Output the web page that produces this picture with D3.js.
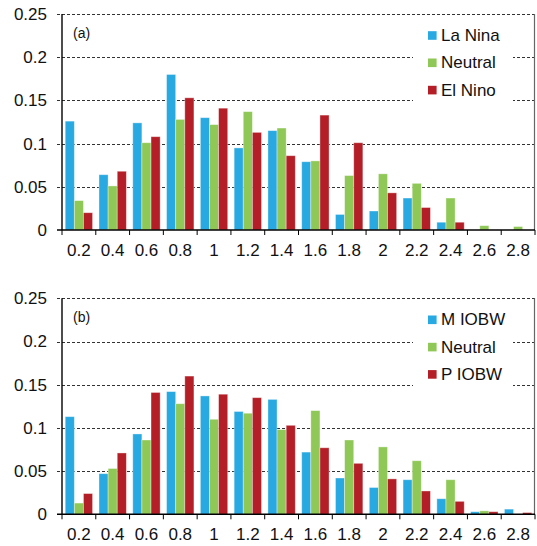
<!DOCTYPE html>
<html>
<head>
<meta charset="utf-8">
<script src="https://cdn.jsdelivr.net/npm/d3@7"></script>
<style>
  html, body { margin: 0; padding: 0; background: #fff; }
  svg { display: block; font-family: "Liberation Sans", Arial, sans-serif; }
</style>
</head>
<body>
<svg id="chart" width="537" height="546"></svg>
<script>
// Bin centres shared by both panels
const categories = ["0.2", "0.4", "0.6", "0.8", "1", "1.2", "1.4", "1.6", "1.8", "2", "2.2", "2.4", "2.6", "2.8"];
const yTicks = [0, 0.05, 0.1, 0.15, 0.2, 0.25];
const yTickLabels = ["0", "0.05", "0.1", "0.15", "0.2", "0.25"];

// Panel (a): ENSO phases
const seriesNamesA = ["La Nina", "Neutral", "El Nino"];
const laNina  = [0.126, 0.064, 0.124, 0.180, 0.130, 0.095, 0.115, 0.079, 0.018, 0.022, 0.037, 0.009, 0, 0];
const neutralA = [0.034, 0.051, 0.101, 0.128, 0.122, 0.137, 0.118, 0.080, 0.063, 0.065, 0.054, 0.037, 0.005, 0.004];
const elNino  = [0.020, 0.068, 0.108, 0.153, 0.141, 0.113, 0.086, 0.133, 0.101, 0.043, 0.026, 0.009, 0, 0];

// Panel (b): IOBW phases
const seriesNamesB = ["M IOBW", "Neutral", "P IOBW"];
const mIobw    = [0.113, 0.047, 0.093, 0.142, 0.137, 0.119, 0.133, 0.072, 0.042, 0.031, 0.040, 0.018, 0.003, 0.006];
const neutralB = [0.013, 0.053, 0.086, 0.128, 0.110, 0.117, 0.098, 0.120, 0.086, 0.078, 0.062, 0.040, 0.004, 0];
const pIobw    = [0.024, 0.071, 0.141, 0.160, 0.139, 0.135, 0.103, 0.077, 0.059, 0.041, 0.027, 0.015, 0.003, 0.002];

const colors = ["#29a9e1", "#8fc857", "#b41f27"];

const svg = d3.select("#chart");
const left = 62, right = 535;

function drawPanel(top, bottom, tag, names, series) {
  const g = svg.append("g");
  const x = d3.scaleBand().domain(categories).range([left, right]).paddingInner(0.19).paddingOuter(0.095);
  const xs = d3.scaleBand().domain(d3.range(series.length)).range([0, x.bandwidth()]);
  const y = d3.scaleLinear().domain([0, 0.25]).range([bottom, top]);

  // dashed gridlines
  g.selectAll("line.grid").data(yTicks.filter(v => v > 0)).join("line")
    .attr("x1", left - 5).attr("x2", right)
    .attr("y1", d => Math.round(y(d)) + 0.5).attr("y2", d => Math.round(y(d)) + 0.5)
    .attr("stroke", "#333").attr("stroke-width", 1).attr("stroke-dasharray", "3,2");

  // legend backdrop hides the gridlines behind it
  g.append("rect").attr("x", 413).attr("y", top + 7).attr("width", 100).attr("height", 84).attr("fill", "#fff");

  // bars
  series.forEach((vals, si) => {
    g.selectAll(null).data(vals.map((v, i) => ({ c: categories[i], v }))).join("rect")
      .attr("x", d => x(d.c) + xs(si))
      .attr("y", d => y(d.v))
      .attr("width", xs.bandwidth())
      .attr("height", d => bottom - y(d.v))
      .attr("fill", colors[si])
      .attr("stroke", "rgba(255,255,255,0.45)")
      .attr("stroke-width", 0.8);
  });

  // right frame
  g.append("line").attr("x1", right - 0.5).attr("x2", right - 0.5).attr("y1", top).attr("y2", bottom)
    .attr("stroke", "#666").attr("stroke-width", 1.2);

  // y axis
  const yAxis = d3.axisLeft(y).tickValues(yTicks).tickFormat((d, i) => yTickLabels[i]).tickSize(5).tickPadding(10);
  const ya = g.append("g").attr("transform", `translate(${left},0)`).call(yAxis);
  ya.select(".domain").attr("stroke", "#000").attr("stroke-width", 1.4).attr("d", `M0,${top}V${bottom}`);
  ya.selectAll(".tick line").attr("stroke", "none");
  ya.selectAll(".tick text").attr("font-size", 17).attr("fill", "#111").attr("font-family", "Liberation Sans, Arial, sans-serif");

  // x axis: labels at bin centres, ticks at bin edges
  const xAxis = d3.axisBottom(x).tickSize(0).tickPadding(14);
  const xa = g.append("g").attr("transform", `translate(0,${bottom})`).call(xAxis);
  xa.select(".domain").attr("stroke", "#000").attr("stroke-width", 1.4).attr("d", `M${left - 5},0H${right}`);
  xa.selectAll(".tick text").attr("font-size", 17).attr("fill", "#111").attr("font-family", "Liberation Sans, Arial, sans-serif");
  const edges = categories.map(c => x(c) - x.step() * x.paddingInner() / 2);
  edges.push(right);
  xa.selectAll("line.edge").data(edges).join("line")
    .attr("x1", d => d).attr("x2", d => d).attr("y1", 0).attr("y2", 5)
    .attr("stroke", "#000").attr("stroke-width", 1);

  // panel tag
  g.append("text").attr("x", 73).attr("y", top + 19).attr("dominant-baseline", "central")
    .attr("font-size", 14).attr("fill", "#111").text(tag);

  // legend
  const lg = g.append("g");
  names.forEach((n, i) => {
    const cy = top + 21.5 + i * 27.3;
    lg.append("rect").attr("x", 428).attr("y", cy - 4.3).attr("width", 8.6).attr("height", 8.6).attr("fill", colors[i]);
    lg.append("text").attr("x", 441).attr("y", cy).attr("dominant-baseline", "central")
      .attr("font-size", 17).attr("fill", "#111").text(n);
  });
}

drawPanel(14, 230, "(a)", seriesNamesA, [laNina, neutralA, elNino]);
drawPanel(298.3, 514.3, "(b)", seriesNamesB, [mIobw, neutralB, pIobw]);
</script>
</body>
</html>
